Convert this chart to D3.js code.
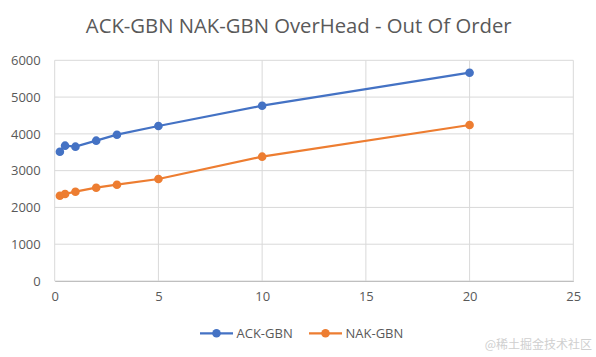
<!DOCTYPE html>
<html><head><meta charset="utf-8">
<script src="https://cdn.jsdelivr.net/npm/d3@7"></script>
<style>body{margin:0;background:#fff}svg{display:block}</style>
</head><body>
<script>
const xValues = [0.25, 0.5, 1, 2, 3, 5, 10, 20];
const ackValues = [3515, 3679, 3652, 3815, 3978, 4214, 4766, 5663];
const nakValues = [2319, 2365, 2428, 2537, 2618, 2773, 3380, 4241];
const seriesNames = ["ACK-GBN", "NAK-GBN"];
const seriesColors = ["#4472C4", "#ED7D31"];
const xTicks = [0, 5, 10, 15, 20, 25];
const yTicks = [0, 1000, 2000, 3000, 4000, 5000, 6000];
const title = "ACK-GBN NAK-GBN OverHead - Out Of Order";

const W = 596, H = 357;
const svg = d3.select("body").append("svg").attr("width", W).attr("height", H);
const font = "'Open Sans', 'Noto Sans', sans-serif";
const x = d3.scaleLinear().domain([0, 25]).range([54.7, 573.3]);
const y = d3.scaleLinear().domain([0, 6000]).range([281, 60.3]);

svg.append("text").attr("x", 298.7).attr("y", 33.3).attr("text-anchor", "middle")
  .attr("font-family", font).attr("font-size", 20.3).attr("fill", "#595959").text(title);

// grid
svg.append("g").selectAll("line").data(yTicks).join("line")
  .attr("x1", x(0)).attr("x2", x(25)).attr("y1", d => y(d)).attr("y2", d => y(d))
  .attr("stroke", "#d9d9d9").attr("stroke-width", 1);
svg.append("g").selectAll("line").data(xTicks).join("line")
  .attr("y1", y(0)).attr("y2", y(6000)).attr("x1", d => x(d)).attr("x2", d => x(d))
  .attr("stroke", "#d9d9d9").attr("stroke-width", 1);

// axes
const xAxis = svg.append("g").attr("transform", `translate(0,${y(0)})`)
  .call(d3.axisBottom(x).tickValues(xTicks).tickSize(0).tickPadding(11));
xAxis.select(".domain").attr("stroke", "#bfbfbf");
const yAxis = svg.append("g").attr("transform", `translate(${x(0)},0)`)
  .call(d3.axisLeft(y).tickValues(yTicks).tickSize(0).tickPadding(14).tickFormat(d3.format("d")));
yAxis.select(".domain").remove();
svg.selectAll(".tick text").attr("font-family", font).attr("font-size", 13).attr("fill", "#595959");

const seriesData = [ackValues, nakValues];
const line = d3.line().x((d, i) => x(xValues[i])).y(d => y(d));
seriesData.forEach((vals, s) => {
  svg.append("path").datum(vals).attr("d", line).attr("fill", "none")
    .attr("stroke", seriesColors[s]).attr("stroke-width", 2.2);
  svg.append("g").selectAll("circle").data(vals).join("circle")
    .attr("cx", (d, i) => x(xValues[i])).attr("cy", d => y(d)).attr("r", 4.3)
    .attr("fill", seriesColors[s]);
});

// legend
const legX = [200, 309];
seriesNames.forEach((n, s) => {
  const g = svg.append("g");
  g.append("line").attr("x1", legX[s]).attr("x2", legX[s] + 33).attr("y1", 333.3).attr("y2", 333.3)
    .attr("stroke", seriesColors[s]).attr("stroke-width", 2.2);
  g.append("circle").attr("cx", legX[s] + 16.5).attr("cy", 333.3).attr("r", 4.3).attr("fill", seriesColors[s]);
  g.append("text").attr("x", legX[s] + 36.5).attr("y", 338).attr("font-family", font)
    .attr("font-size", 13).attr("fill", "#595959").text(n);
});

svg.append("text").attr("x", 592).attr("y", 349).attr("text-anchor", "end")
  .attr("font-family", "'Noto Sans CJK SC', sans-serif").attr("font-size", 12)
  .attr("fill", "#cfcfcf").text("@稀土掘金技术社区");
</script>
</body></html>
